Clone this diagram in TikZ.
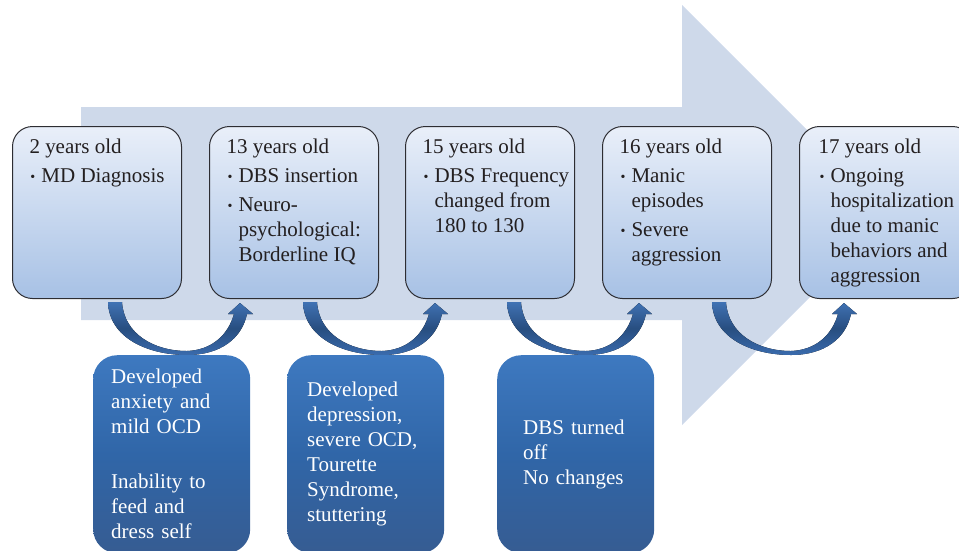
\documentclass[tikz,border=0pt]{standalone}
\usepackage{fontspec}
\setmainfont{Liberation Serif}
\usetikzlibrary{calc}
\definecolor{flowbg}{RGB}{206,217,234}
\definecolor{agetop}{RGB}{233,239,249}
\definecolor{agebot}{RGB}{167,193,229}
\definecolor{ageline}{RGB}{45,45,50}
\definecolor{agetext}{RGB}{35,31,32}
\definecolor{eventtop}{RGB}{62,121,192}
\definecolor{eventmid}{RGB}{48,102,168}
\definecolor{eventbot}{RGB}{54,92,146}
\definecolor{bendtop}{RGB}{64,114,180}
\definecolor{bendmid}{RGB}{40,78,128}
\definecolor{bendbot}{RGB}{58,107,173}

\newcommand{\boxfont}{\fontsize{21}{25}\selectfont}
\newcommand{\bulletline}[1]{\par\hangindent=12pt\hangafter=1\noindent\makebox[12pt][l]{\hspace{1pt}\raisebox{1pt}{\fontsize{14}{14}\selectfont\textbullet}}#1}
\newcommand{\agetext}[2]{\makebox[135pt][l]{\parbox[t][154pt][t]{165pt}{\raggedright\let\\\newline\parskip=4pt\strut #1#2}}}

\tikzset{
  agebox/.style={draw=ageline, line width=1pt, rounded corners=20pt, top color=agetop, bottom color=agebot,
    inner xsep=17pt, inner ysep=9pt, anchor=north west, font=\boxfont, text=agetext},
  eventbox/.style={top color=eventtop, bottom color=eventbot, middle color=eventmid, rounded corners=24pt,
    minimum width=157pt, minimum height=198pt, inner ysep=0pt, anchor=north west, font=\boxfont, text=white, align=left},
  bendarrow/.pic={
    \fill[top color=bendtop, bottom color=bendbot, middle color=bendmid]
      (0,0) .. controls (1,-36) and (40,-53) .. (79,-53) .. controls (113,-53) and (134,-36) .. (139,-12)
      -- (145,-12) -- (132,-1) -- (120,-12) -- (126,-12)
      .. controls (120,-33) and (104,-48) .. (79,-49) .. controls (46,-49) and (16,-32) .. (14,0) -- cycle;
  }
}

\begin{document}
\begin{tikzpicture}[x=1pt, y=1pt]
  \useasboundingbox (0,0) rectangle (959,-550);

  % Timeline arrow
  \fill[flowbg] (81,-107) -- (682,-107) -- (682,-5) -- (892,-215) -- (682,-425) -- (682,-320) -- (81,-320) -- cycle;

  % Ages
  \node[agebox] (age2) at (12,-126) {\agetext{2 years old}{\bulletline{MD Diagnosis}}};
  \node[agebox] (age13) at (209,-126) {\agetext{13 years old}{\bulletline{DBS insertion}\bulletline{Neuro-\\psychological:\\Borderline IQ}}};
  \node[agebox] (age15) at (405,-126) {\agetext{15 years old}{\bulletline{DBS Frequency\\changed from\\180 to 130}}};
  \node[agebox] (age16) at (602,-126) {\agetext{16 years old}{\bulletline{Manic\\episodes}\bulletline{Severe\\aggression}}};
  \node[agebox, inner xsep=19pt] (age17) at (799,-126) {\agetext{17 years old}{\bulletline{Ongoing\\hospitalization\\due to manic\\behaviors and\\aggression}}};

  % Bends
  \pic (bend1) at ($(age2.south west)+(96,-3)$) {bendarrow};
  \pic (bend2) at ($(age13.south west)+(94,-3)$) {bendarrow};
  \pic (bend3) at ($(age15.south west)+(102,-3)$) {bendarrow};
  \pic (bend4) at ($(age16.south west)+(110,-3)$) {bendarrow};

  % Events
  \node[eventbox, inner xsep=18pt, text width=121pt] (event1) at (93,-355) {Developed\\anxiety and\\mild OCD\\[30pt]Inability to\\feed and\\dress self};
  \node[eventbox, inner xsep=20pt, text width=117pt] (event2) at (287,-355) {Developed\\depression,\\severe OCD,\\Tourette\\Syndrome,\\stuttering};
  \node[eventbox, inner xsep=26pt, text width=105pt] (event3) at (497,-355) {DBS turned\\off\\No changes};
\end{tikzpicture}
\end{document}
